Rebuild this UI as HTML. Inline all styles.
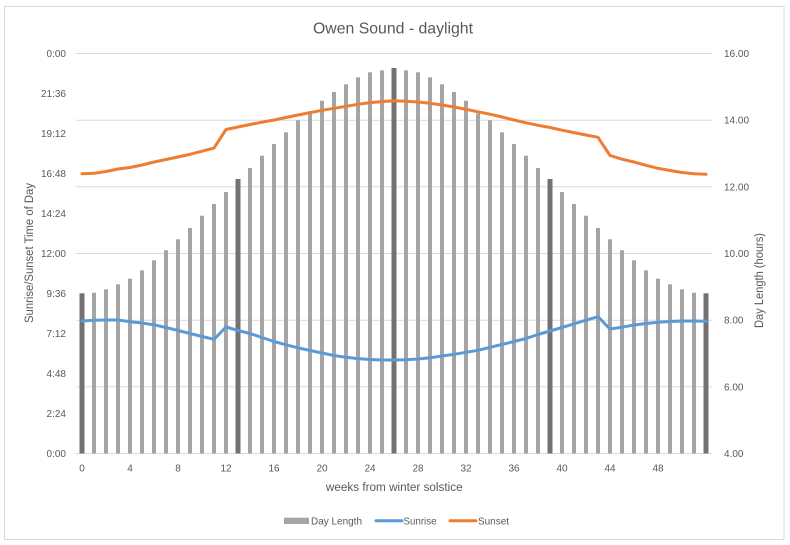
<!DOCTYPE html>
<html>
<head>
<meta charset="utf-8">
<style>
  html,body{margin:0;padding:0;background:#fff;}
  svg{display:block;}
  text{font-family:"Liberation Sans","DejaVu Sans",sans-serif;fill:#595959;}
</style>
</head>
<body>
<svg width="790" height="545" viewBox="0 0 790 545" xmlns="http://www.w3.org/2000/svg">
  <rect x="0" y="0" width="790" height="545" fill="#fff"/>
  <rect x="4.5" y="6.5" width="779.5" height="533" fill="#fff" stroke="#d9d9d9" stroke-width="1"/>

  <text x="393" y="33.5" font-size="16" text-anchor="middle" textLength="160" lengthAdjust="spacingAndGlyphs">Owen Sound - daylight</text>

  <g stroke="#d9d9d9" stroke-width="1">
    <line x1="76" y1="53.5" x2="712" y2="53.5"/>
    <line x1="76" y1="120.2" x2="712" y2="120.2"/>
    <line x1="76" y1="186.8" x2="712" y2="186.8"/>
    <line x1="76" y1="253.5" x2="712" y2="253.5"/>
    <line x1="76" y1="320.2" x2="712" y2="320.2"/>
    <line x1="76" y1="386.8" x2="712" y2="386.8"/>
    <line x1="76" y1="453.5" x2="712" y2="453.5"/>
  </g>

  <g fill="#a5a5a5">
    <rect x="92" y="292.7" width="4" height="160.8"/>
    <rect x="104" y="289.3" width="4" height="164.2"/>
    <rect x="116" y="284.3" width="4" height="169.2"/>
    <rect x="128" y="278.7" width="4" height="174.8"/>
    <rect x="140" y="270.3" width="4" height="183.2"/>
    <rect x="152" y="260.3" width="4" height="193.2"/>
    <rect x="164" y="250.3" width="4" height="203.2"/>
    <rect x="176" y="239.3" width="4" height="214.2"/>
    <rect x="188" y="228" width="4" height="225.5"/>
    <rect x="200" y="215.7" width="4" height="237.8"/>
    <rect x="212" y="204" width="4" height="249.5"/>
    <rect x="224" y="192" width="4" height="261.5"/>
    <rect x="248" y="168" width="4" height="285.5"/>
    <rect x="260" y="155.7" width="4" height="297.8"/>
    <rect x="272" y="144" width="4" height="309.5"/>
    <rect x="284" y="132.3" width="4" height="321.2"/>
    <rect x="296" y="120.3" width="4" height="333.2"/>
    <rect x="308" y="113.5" width="4" height="340"/>
    <rect x="320" y="100.7" width="4" height="352.8"/>
    <rect x="332" y="92" width="4" height="361.5"/>
    <rect x="344" y="84.3" width="4" height="369.2"/>
    <rect x="356" y="77.3" width="4" height="376.2"/>
    <rect x="368" y="72.3" width="4" height="381.2"/>
    <rect x="380" y="70.3" width="4" height="383.2"/>
    <rect x="404" y="70.3" width="4" height="383.2"/>
    <rect x="416" y="72.3" width="4" height="381.2"/>
    <rect x="428" y="77.3" width="4" height="376.2"/>
    <rect x="440" y="84.3" width="4" height="369.2"/>
    <rect x="452" y="92" width="4" height="361.5"/>
    <rect x="464" y="100.7" width="4" height="352.8"/>
    <rect x="476" y="113.5" width="4" height="340"/>
    <rect x="488" y="120.3" width="4" height="333.2"/>
    <rect x="500" y="132.3" width="4" height="321.2"/>
    <rect x="512" y="144" width="4" height="309.5"/>
    <rect x="524" y="155.7" width="4" height="297.8"/>
    <rect x="536" y="168" width="4" height="285.5"/>
    <rect x="560" y="192" width="4" height="261.5"/>
    <rect x="572" y="204" width="4" height="249.5"/>
    <rect x="584" y="215.7" width="4" height="237.8"/>
    <rect x="596" y="228" width="4" height="225.5"/>
    <rect x="608" y="239.3" width="4" height="214.2"/>
    <rect x="620" y="250.3" width="4" height="203.2"/>
    <rect x="632" y="260.3" width="4" height="193.2"/>
    <rect x="644" y="270.3" width="4" height="183.2"/>
    <rect x="656" y="278.7" width="4" height="174.8"/>
    <rect x="668" y="284.3" width="4" height="169.2"/>
    <rect x="680" y="289.3" width="4" height="164.2"/>
    <rect x="692" y="292.7" width="4" height="160.8"/>
  </g>
  <g fill="#767171">
    <rect x="79.5" y="293.3" width="5" height="160.2"/>
    <rect x="235.5" y="179" width="5" height="274.5"/>
    <rect x="391.5" y="68" width="5" height="385.5"/>
    <rect x="547.5" y="179" width="5" height="274.5"/>
    <rect x="703.5" y="293.3" width="5" height="160.2"/>
  </g>

  <polyline fill="none" stroke="#5b9bd5" stroke-width="3" stroke-linejoin="round" stroke-linecap="round"
    points="82,321 94,320.3 106,320 118,320 130,321.7 142,323 154,324.8 166,327.5 178,330.5 190,333.5 202,336.5 214,339.3 226,327 238,330.5 250,333.5 262,337.5 274,341.5 286,344.8 298,347.8 310,350.5 322,353 334,355.5 346,357.3 358,358.6 370,359.5 382,360 394,360 406,359.8 418,359 430,357.8 442,356 454,354.3 466,352.3 478,350.3 490,347.3 502,344.5 514,341.5 526,338.5 538,334.5 550,331 562,327.5 574,323.8 586,320.2 598,316.7 610,329 622,327.2 634,325 646,323.5 658,322.3 670,321.5 682,321 694,321 706,321.3"/>

  <polyline fill="none" stroke="#ed7d31" stroke-width="3" stroke-linejoin="round" stroke-linecap="round"
    points="82,173.8 94,173.3 106,171.5 118,169 130,167.5 142,165 154,162 166,159.5 178,157 190,154.3 202,151.2 214,148.1 226,129.5 238,127 250,124.5 262,122.2 274,120 286,117.5 298,115 310,112.6 322,110.3 334,108.3 346,106.3 358,104.3 370,102.6 382,101.6 394,100.8 406,101.2 418,102 430,103.3 442,105 454,107 466,109.3 478,111.8 490,114.2 502,117 514,120 526,122.8 538,125.3 550,127.5 562,130.2 574,132.6 586,135 598,137.3 610,155.5 622,159.2 634,162 646,165.3 658,168.3 670,170.5 682,172.5 694,173.8 706,174.3"/>

  <g font-size="10" text-anchor="end">
    <text x="66" y="57">0:00</text>
    <text x="66" y="97">21:36</text>
    <text x="66" y="137">19:12</text>
    <text x="66" y="177">16:48</text>
    <text x="66" y="217">14:24</text>
    <text x="66" y="257">12:00</text>
    <text x="66" y="297">9:36</text>
    <text x="66" y="337">7:12</text>
    <text x="66" y="377">4:48</text>
    <text x="66" y="417">2:24</text>
    <text x="66" y="457">0:00</text>
  </g>

  <g font-size="10" text-anchor="start">
    <text x="724" y="57">16.00</text>
    <text x="724" y="123.7">14.00</text>
    <text x="724" y="190.3">12.00</text>
    <text x="724" y="257">10.00</text>
    <text x="724" y="323.7">8.00</text>
    <text x="724" y="390.3">6.00</text>
    <text x="724" y="457">4.00</text>
  </g>

  <g font-size="10" text-anchor="middle">
    <text x="82" y="471.5">0</text>
    <text x="130" y="471.5">4</text>
    <text x="178" y="471.5">8</text>
    <text x="226" y="471.5">12</text>
    <text x="274" y="471.5">16</text>
    <text x="322" y="471.5">20</text>
    <text x="370" y="471.5">24</text>
    <text x="418" y="471.5">28</text>
    <text x="466" y="471.5">32</text>
    <text x="514" y="471.5">36</text>
    <text x="562" y="471.5">40</text>
    <text x="610" y="471.5">44</text>
    <text x="658" y="471.5">48</text>
  </g>

  <text x="394.3" y="491" font-size="11.5" text-anchor="middle" textLength="136.7" lengthAdjust="spacingAndGlyphs">weeks from winter solstice</text>
  <text transform="translate(33,253) rotate(-90)" x="0" y="0" font-size="11.5" text-anchor="middle" textLength="140" lengthAdjust="spacingAndGlyphs">Sunrise/Sunset Time of Day</text>
  <text transform="translate(763,280.5) rotate(-90)" x="0" y="0" font-size="11.5" text-anchor="middle" textLength="95" lengthAdjust="spacingAndGlyphs">Day Length (hours)</text>

  <rect x="284" y="517.7" width="25" height="6.3" fill="#a5a5a5"/>
  <text x="311" y="524.3" font-size="10" textLength="51" lengthAdjust="spacingAndGlyphs">Day Length</text>
  <line x1="376" y1="520.8" x2="402" y2="520.8" stroke="#5b9bd5" stroke-width="3" stroke-linecap="round"/>
  <text x="403.5" y="524.3" font-size="10" textLength="33" lengthAdjust="spacingAndGlyphs">Sunrise</text>
  <line x1="450" y1="520.8" x2="476" y2="520.8" stroke="#ed7d31" stroke-width="3" stroke-linecap="round"/>
  <text x="478" y="524.3" font-size="10" textLength="31" lengthAdjust="spacingAndGlyphs">Sunset</text>
</svg>
</body>
</html>
